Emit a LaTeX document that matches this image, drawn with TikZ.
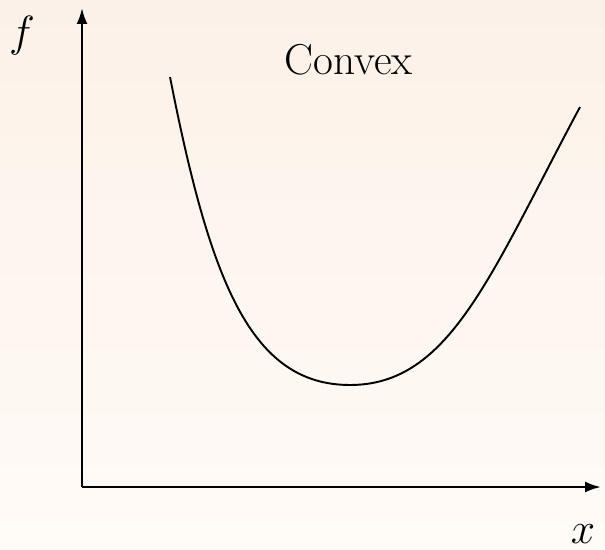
\documentclass[tikz,border=0pt]{standalone}
\usetikzlibrary{arrows.meta}
\definecolor{bgtop}{RGB}{252,241,232}
\definecolor{bgbot}{RGB}{255,251,247}
\begin{document}
\begin{tikzpicture}[x=0.02cm,y=-0.02cm,
  axis/.style={line width=1.4pt,-{Latex[length=16pt*0.569,width=11pt*0.569]}},
  curve/.style={line width=1.1pt},
  lbl/.style={font=\fontsize{24.6}{30}\selectfont,inner sep=0pt,anchor=base}]
\shade[top color=bgtop,bottom color=bgbot] (0,0) rectangle (605,550);
\useasboundingbox (0,0) rectangle (605,550);
\coordinate (origin) at (82,487);
\coordinate (ytip) at (82,8);
\coordinate (xtip) at (601,487);
\draw[axis] (origin) -- (ytip);
\draw[axis] (origin) -- (xtip);
\coordinate (cstart) at (170,77);
\coordinate (cmin) at (350,385);
\coordinate (cend) at (580,107);
\draw[curve] (cstart) .. controls (210,280) and (250,385) .. (cmin)
  .. controls (450,385) and (490,275) .. (cend);
\node[lbl] (title) at (348.5,75) {Convex};
\node[lbl] (flab) at (22,47) {$f$};
\node[lbl] (xlab) at (583,543) {$x$};
\end{tikzpicture}
\end{document}
